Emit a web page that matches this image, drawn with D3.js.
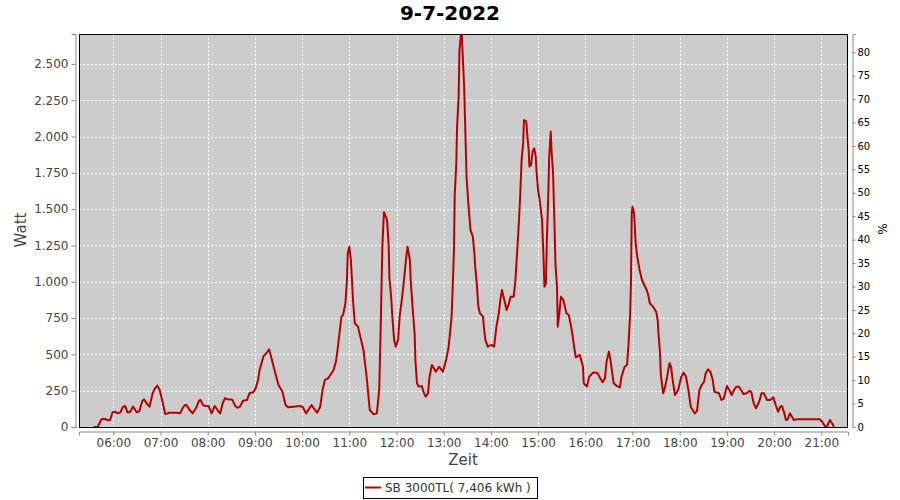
<!DOCTYPE html>
<html><head><meta charset="utf-8">
<script src="https://cdn.jsdelivr.net/npm/d3@7"></script>
<style>body{margin:0;background:#fff;} svg{display:block;font-family:"DejaVu Sans",sans-serif;}</style>
</head><body>
<svg id="c" width="900" height="500"></svg>
<script>
const title = "9-7-2022";
const seriesName = "SB 3000TL( 7,406 kWh )";
const times = ["05:35","05:40","05:45","05:48","05:54","05:56","05:59","06:02","06:06","06:09","06:12","06:15","06:18","06:21","06:25","06:30","06:33","06:37","06:39","06:44","06:46","06:50","06:53","06:56","06:59","07:03","07:06","07:08","07:11","07:21","07:25","07:28","07:31","07:33","07:37","07:41","07:46","07:49","07:51","07:54","07:57","08:01","08:05","08:09","08:14","08:16","08:19","08:22","08:26","08:31","08:35","08:38","08:41","08:45","08:50","08:53","08:58","09:01","09:04","09:06","09:11","09:15","09:18","09:20","09:26","09:30","09:35","09:39","09:42","09:49","09:57","10:01","10:05","10:12","10:19","10:23","10:26","10:29","10:33","10:40","10:43","10:45","10:48","10:50","10:52","10:55","10:57","10:58","11:00","11:02","11:03","11:05","11:07","11:11","11:14","11:18","11:22","11:26","11:31","11:35","11:38","11:40","11:42","11:44","11:48","11:50","11:51","11:53","11:55","11:57","11:59","12:02","12:04","12:07","12:10","12:12","12:14","12:17","12:18","12:21","12:23","12:24","12:26","12:28","12:32","12:35","12:37","12:40","12:42","12:45","12:48","12:50","12:54","12:57","12:59","13:03","13:06","13:08","13:10","13:11","13:13","13:14","13:16","13:17","13:19","13:20","13:22","13:23","13:24","13:26","13:27","13:29","13:31","13:33","13:34","13:37","13:39","13:40","13:42","13:44","13:46","13:50","13:51","13:53","13:56","14:01","14:04","14:07","14:10","14:12","14:14","14:17","14:20","14:23","14:25","14:29","14:31","14:33","14:35","14:37","14:39","14:41","14:42","14:45","14:46","14:48","14:49","14:51","14:53","14:55","14:57","14:58","15:00","15:02","15:05","15:07","15:08","15:10","15:11","15:13","15:14","15:16","15:17","15:19","15:21","15:22","15:24","15:25","15:27","15:29","15:32","15:34","15:36","15:39","15:42","15:44","15:46","15:48","15:53","15:57","15:58","16:02","16:05","16:10","16:15","16:19","16:22","16:25","16:27","16:30","16:32","16:36","16:40","16:44","16:46","16:50","16:53","16:55","16:57","16:58","16:59","17:00","17:02","17:04","17:06","17:09","17:12","17:16","17:18","17:20","17:22","17:26","17:30","17:32","17:33","17:35","17:36","17:39","17:41","17:44","17:47","17:49","17:51","17:54","17:58","18:02","18:05","18:08","18:11","18:14","18:19","18:22","18:25","18:28","18:31","18:33","18:36","18:39","18:42","18:44","18:50","18:53","18:56","19:00","19:03","19:06","19:09","19:12","19:15","19:18","19:21","19:25","19:29","19:31","19:34","19:37","19:41","19:44","19:47","19:51","19:55","19:59","20:02","20:05","20:08","20:10","20:13","20:15","20:17","20:20","20:25","20:29","20:58","21:01","21:05","21:07","21:11","21:15","21:16"];
const watts = [0,0,53,57,46,48,101,105,94,101,136,145,101,101,140,101,108,181,190,151,140,232,266,285,255,163,90,92,98,98,94,129,151,151,117,94,140,181,186,151,145,145,94,145,105,94,163,198,190,190,145,133,140,181,186,232,239,266,324,393,489,510,535,496,370,289,243,151,136,140,145,136,94,151,98,140,255,324,335,393,450,530,668,760,770,850,1012,1196,1242,1150,1050,852,714,691,622,530,346,117,87,94,255,714,1242,1479,1426,1253,1024,909,737,599,553,599,760,886,1035,1150,1242,1150,1012,783,645,461,301,278,282,232,209,232,346,427,400,381,415,395,381,461,542,645,760,897,1210,1600,1816,2068,2275,2596,2705,2705,2574,2344,2137,1724,1563,1426,1357,1311,1196,1104,990,829,783,760,691,599,553,565,553,691,783,875,943,875,806,852,897,897,1001,1173,1357,1563,1839,1954,2114,2103,2022,1908,1793,1804,1896,1919,1862,1758,1632,1563,1426,1150,966,990,1265,1609,1850,2034,1908,1747,1357,1127,966,691,783,897,875,829,783,771,691,622,542,480,496,415,301,278,346,376,374,335,308,335,450,519,461,301,282,273,346,415,427,576,783,990,1471,1517,1471,1265,1173,1081,1012,966,943,909,852,829,794,737,645,508,358,232,266,346,439,415,324,220,255,346,374,346,255,140,94,110,255,289,312,370,397,381,324,243,232,186,195,282,255,220,255,278,278,255,227,232,250,240,163,129,174,232,232,186,186,204,151,105,140,145,94,48,50,94,48,53,53,36,2,2,48,14,0];
const leftTicks = [0,250,500,750,1000,1250,1500,1750,2000,2250,2500];
const rightTicks = [0,5,10,15,20,25,30,35,40,45,50,55,60,65,70,75,80];
const hourTicks = ["06:00","07:00","08:00","09:00","10:00","11:00","12:00","13:00","14:00","15:00","16:00","17:00","18:00","19:00","20:00","21:00"];

const toMin = s => { const [h,m] = s.split(":").map(Number); return h*60+m; };
const data = times.map((t,i)=>({t:toMin(t), w:watts[i]}));

const svg = d3.select("#c");
const L=79, R=848, T=34, B=427;
const x = d3.scaleLinear().domain([316.4, 1293.9]).range([L,R]);
const y = d3.scaleLinear().domain([0, 2706]).range([B,T]);
const y2 = d3.scaleLinear().domain([0, 83.9]).range([B,T]);

svg.append("rect").attr("x",L).attr("y",T).attr("width",R-L).attr("height",B-T).attr("fill","#cccccc");

const g = svg.append("g");
hourTicks.forEach(h=>{
  const xx = Math.round(x(toMin(h)))+0.5;
  g.append("line").attr("x1",xx).attr("x2",xx).attr("y1",T).attr("y2",B).attr("stroke","#fff").attr("stroke-dasharray","2,2");
});
leftTicks.forEach(v=>{
  if(v===0) return;
  const yy = Math.round(y(v))+0.5;
  g.append("line").attr("x1",L).attr("x2",R).attr("y1",yy).attr("y2",yy).attr("stroke","#fff").attr("stroke-dasharray","2,2");
});

const clip = svg.append("clipPath").attr("id","pc").append("rect").attr("x",L).attr("y",T).attr("width",R-L).attr("height",B-T+1);
svg.append("path").datum(data).attr("clip-path","url(#pc)")
  .attr("d", d3.line().x(d=>x(d.t)).y(d=>y(d.w)))
  .attr("fill","none").attr("stroke","#b80000").attr("stroke-width",2).attr("stroke-linejoin","round");

svg.append("rect").attr("x",L+0.5).attr("y",T+0.5).attr("width",R-L-1).attr("height",B-T).attr("fill","none").attr("stroke","#000").attr("stroke-width",1);

// left axis
const fmt = v => d3.format(",")(v).replace(/,/g,".");
const ax = svg.append("g").attr("transform","translate(75.5,0)")
  .call(d3.axisLeft(y).tickValues(leftTicks).tickFormat(fmt).tickSize(4).tickPadding(3));
ax.selectAll("path,line").attr("stroke","#888");
ax.selectAll("text").attr("fill","#444").attr("font-size","12px").attr("font-family","DejaVu Sans");

// bottom axis
const bx = svg.append("g").attr("transform","translate(0,431.5)")
  .call(d3.axisBottom(x).tickValues(hourTicks.map(toMin)).tickFormat((d,i)=>hourTicks[i]).tickSize(4).tickPadding(3));
bx.selectAll("path,line").attr("stroke","#888");
bx.selectAll("text").attr("fill","#444").attr("font-size","12px").attr("font-family","DejaVu Sans");

// right axis
const rx = svg.append("g").attr("transform","translate(852.5,0)")
  .call(d3.axisRight(y2).tickValues(rightTicks).tickSize(3).tickPadding(2));
rx.selectAll("path,line").attr("stroke","#888");
rx.selectAll("text").attr("fill","#000").attr("font-size","10px").attr("font-family","DejaVu Sans");

// titles
svg.append("text").attr("x",450).attr("y",20).attr("text-anchor","middle").attr("font-size","20px").attr("font-weight","bold").attr("fill","#000").text(title);
svg.append("text").attr("x",463).attr("y",465).attr("text-anchor","middle").attr("font-size","15px").attr("fill","#444").text("Zeit");
svg.append("text").attr("transform","translate(26,230) rotate(-90)").attr("text-anchor","middle").attr("font-size","15px").attr("fill","#444").text("Watt");
svg.append("text").attr("transform","translate(878,229) rotate(90)").attr("text-anchor","middle").attr("font-size","12px").attr("fill","#000").text("%");

// legend
const lg = svg.append("g");
lg.append("rect").attr("x",363.5).attr("y",477.5).attr("width",174).attr("height",21).attr("fill","#fff").attr("stroke","#000");
lg.append("line").attr("x1",365).attr("x2",381).attr("y1",487.5).attr("y2",487.5).attr("stroke","#b80000").attr("stroke-width",2);
lg.append("text").attr("x",385).attr("y",492).attr("font-size","12px").attr("fill","#333").text(seriesName);
</script>
</body></html>
